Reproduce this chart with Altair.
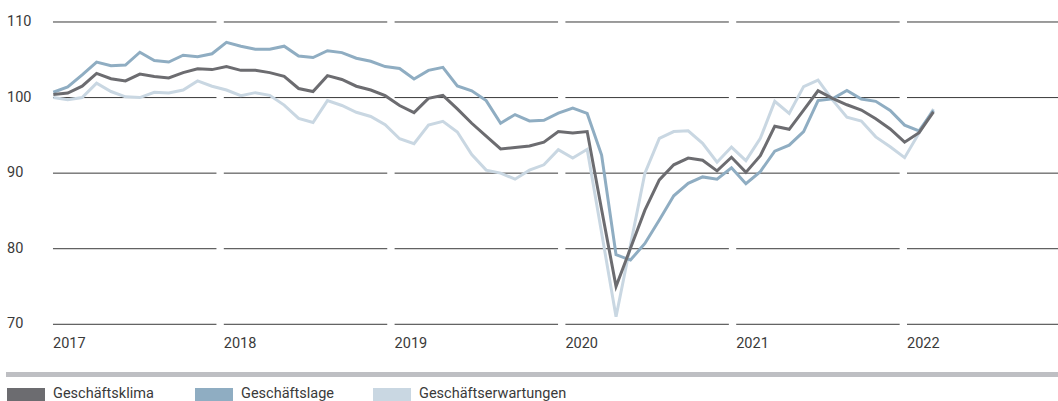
import altair as alt
import pandas as pd

# ifo indices (2015 = 100), monthly, Jan 2017 - Feb 2022
months = [f"{y}-{m:02d}" for y in range(2017, 2023) for m in range(1, 13)][:62]

klima = [
    100.4, 100.6, 101.5, 103.2, 102.5, 102.2, 103.1, 102.8, 102.6, 103.3, 103.8, 103.7,
    104.1, 103.6, 103.6, 103.3, 102.8, 101.2, 100.8, 102.9, 102.4, 101.5, 101.0, 100.25,
    98.95, 98.0, 99.9, 100.3, 98.5, 96.6, 94.9, 93.2, 93.4, 93.6, 94.1, 95.5,
    95.3, 95.5, 85.2, 75.0, 80.05, 85.1, 89.1, 91.1, 92.0, 91.7, 90.3, 92.1,
    90.1, 92.3, 96.2, 95.8, 98.35, 100.9, 99.9, 99.05, 98.35, 97.2, 95.85, 94.1,
    95.35, 98.1,
]
lage = [
    100.7, 101.4, 103.0, 104.7, 104.2, 104.3, 106.0, 104.9, 104.7, 105.6, 105.4, 105.8,
    107.3, 106.8, 106.4, 106.4, 106.8, 105.5, 105.3, 106.2, 105.95, 105.2, 104.8, 104.1,
    103.85, 102.45, 103.6, 104.0, 101.55, 100.9, 99.6, 96.6, 97.75, 96.9, 97.0, 97.95,
    98.6, 97.9, 92.4, 79.2, 78.5, 80.7, 83.8, 87.0, 88.65, 89.5, 89.2, 90.7,
    88.6, 90.2, 92.9, 93.7, 95.5, 99.6, 99.85, 100.95, 99.8, 99.5, 98.3, 96.35,
    95.6, 98.3,
]
erwartungen = [
    100.0, 99.7, 100.0, 101.9, 100.8, 100.1, 100.0, 100.7, 100.6, 101.0, 102.2, 101.5,
    101.0, 100.25, 100.65, 100.3, 99.0, 97.25, 96.7, 99.6, 98.95, 98.05, 97.5, 96.4,
    94.55, 93.9, 96.35, 96.85, 95.45, 92.45, 90.4, 90.0, 89.2, 90.4, 91.1, 93.1,
    92.0, 93.15, 82.1, 71.0, 80.5, 90.0, 94.6, 95.5, 95.6, 93.95, 91.45, 93.45,
    91.65, 94.6, 99.5, 97.9, 101.45, 102.3, 99.7, 97.4, 96.9, 94.8, 93.5, 92.05,
    95.3, 98.5,
]

series_names = ["Geschäftsklima", "Geschäftslage", "Geschäftserwartungen"]
series_colors = ["#6c6c70", "#8fadc2", "#c9d7e2"]
years = [2017, 2018, 2019, 2020, 2021, 2022]
y_ticks = [70, 80, 90, 100, 110]

FONT = "Roboto"
TEXT = "#3a3a3a"

rows = []
for name, vals in zip(series_names, [klima, lage, erwartungen]):
    for i, (m, v) in enumerate(zip(months, vals)):
        rows.append({"series": name, "month": m, "idx": i, "value": v})
df = pd.DataFrame(rows)

grid_df = pd.DataFrame([{"year": y, "level": t} for y in years for t in y_ticks])
years_df = pd.DataFrame({"year": years, "label": [str(y) for y in years]})
ticks_df = pd.DataFrame({"level": y_ticks})
legend_df = pd.DataFrame({"series": series_names, "lx": [7, 195, 373]})

y_scale = alt.Scale(domain=[59.85, 112.91], nice=False, zero=False)
month_scale = alt.Scale(domain=[-3.694, 69.63], nice=False, zero=False)
year_scale = alt.Scale(domain=[2016.6897, 2022.884], nice=False, zero=False)
color_scale = alt.Scale(domain=series_names, range=series_colors)

# horizontal grid, broken into one segment per year
grid = (
    alt.Chart(grid_df)
    .transform_calculate(year_end="datum.year + 0.957")
    .mark_rule(color="#3a3a3a", strokeWidth=1, clip=True)
    .encode(
        x=alt.X("year:Q", scale=year_scale, axis=None),
        x2="year_end:Q",
        y=alt.Y("level:Q", scale=y_scale, axis=None),
    )
)

year_labels = (
    alt.Chart(years_df)
    .mark_text(align="left", baseline="middle", font=FONT, fontSize=14.5, color=TEXT)
    .encode(
        x=alt.X("year:Q", scale=year_scale, axis=None),
        y=alt.value(344),
        text="label:N",
    )
)

tick_labels = (
    alt.Chart(ticks_df)
    .mark_text(align="left", baseline="middle", font=FONT, fontSize=14.5, color=TEXT)
    .encode(
        x=alt.value(7),
        y=alt.Y("level:Q", scale=y_scale, axis=None),
        text="level:Q",
    )
)


def series_line(name):
    return (
        alt.Chart(df)
        .transform_filter(alt.datum.series == name)
        .mark_line(strokeWidth=3, strokeJoin="miter")
        .encode(
            x=alt.X("idx:Q", scale=month_scale, axis=None),
            y=alt.Y("value:Q", scale=y_scale, axis=None),
            color=alt.Color("series:N", scale=color_scale, legend=None),
            order="idx:Q",
        )
    )


divider = (
    alt.Chart(pd.DataFrame({"k": [0]}))
    .mark_rect(color="#bebfc3")
    .encode(x=alt.value(6), x2=alt.value(1058), y=alt.value(372), y2=alt.value(377))
)

legend_swatches = (
    alt.Chart(legend_df)
    .transform_calculate(lx2="datum.lx + 38")
    .mark_rect()
    .encode(
        x=alt.X("lx:Q", scale=None, axis=None),
        x2="lx2:Q",
        y=alt.value(388),
        y2=alt.value(402),
        color=alt.Color("series:N", scale=color_scale, legend=None),
    )
)

legend_text = (
    alt.Chart(legend_df)
    .transform_calculate(tx="datum.lx + 46")
    .mark_text(align="left", baseline="alphabetic", font=FONT, fontSize=14.5, color=TEXT)
    .encode(
        x=alt.X("tx:Q", scale=None, axis=None),
        y=alt.value(397.5),
        text="series:N",
    )
)

chart = (
    alt.layer(
        grid,
        year_labels,
        tick_labels,
        series_line("Geschäftserwartungen"),
        series_line("Geschäftslage"),
        series_line("Geschäftsklima"),
        divider,
        legend_swatches,
        legend_text,
    )
    .resolve_scale(x="independent")
    .properties(
        width=1058,
        height=401,
        padding=0,
        autosize=alt.AutoSizeParams(type="none"),
        background="white",
    )
    .configure_view(strokeWidth=0)
)

chart.save("out.html", embed_options={"renderer": "svg", "actions": False})
